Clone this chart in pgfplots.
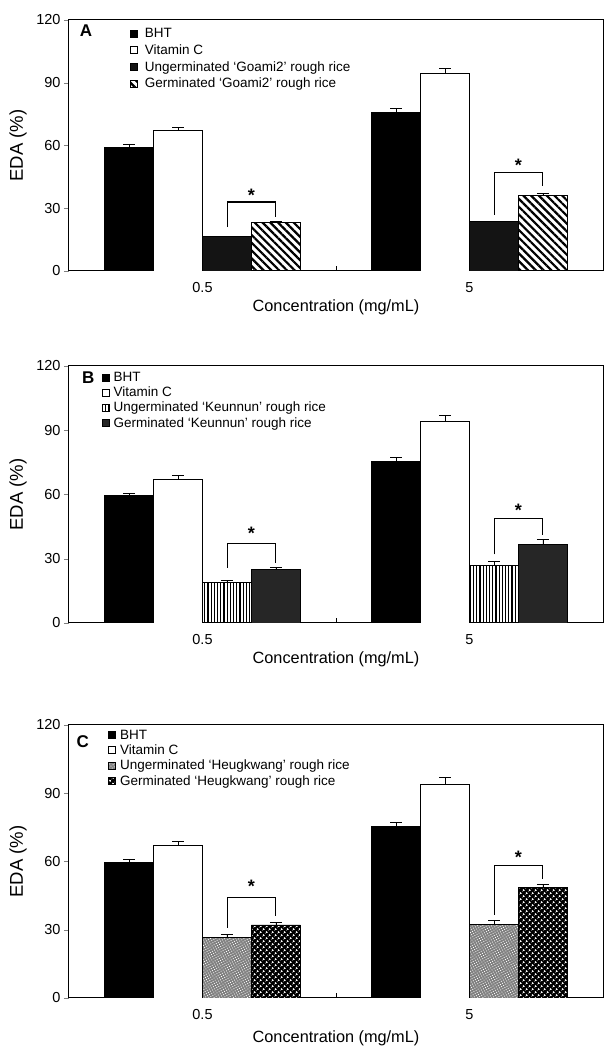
\documentclass[border=0pt]{standalone}
\usepackage{fontspec}
\setmainfont{Liberation Sans}
\usepackage{pgfplots}
\pgfplotsset{compat=1.18}
\usepackage{pgfplotstable}
\usetikzlibrary{patterns,patterns.meta}

\pgfplotstableread{
x bht bhte vc vce u ue g ge
0 59.0 1.5 67.0 1.8 16.5 0.0 23.0 0.8
1 75.7 1.8 94.3 2.7 23.5 0.0 36.3 0.8
}\dataA
\pgfplotstableread{
x bht bhte vc vce u ue g ge
0 59.5 1.0 67.0 1.8 19.0 0.9 25.0 1.1
1 75.5 2.0 94.3 2.8 27.0 1.6 36.8 2.4
}\dataB
\pgfplotstableread{
x bht bhte vc vce u ue g ge
0 59.6 1.2 67.2 1.5 26.5 1.6 32.1 1.1
1 75.5 1.8 94.0 3.0 32.4 1.6 48.7 1.1
}\dataC

\pgfplotsset{
  panel/.style={
    scale only axis, width=534pt, anchor=south west,
    ybar=0pt, bar width=0.1835,
    xmin=-0.5, xmax=1.5, ymin=0, ymax=120,
    xtick={0,1}, xticklabels={0.5,5}, xtick style={draw=none},
    ytick={0,30,60,90,120}, ytick pos=left, tick align=outside,
    major tick length=5pt,
    axis line style={line width=1pt},
    /pgf/number format/assume math mode=true,
    tick label style={font=\fontsize{14.5}{17}\selectfont},
    xticklabel style={yshift=-3pt},
    xlabel={Concentration (mg/mL)}, ylabel={EDA (\%)},
    xlabel style={font=\fontsize{16.3}{19}\selectfont, at={(axis description cs:0.5,0)}, anchor=center, yshift=-36pt},
    ylabel style={font=\fontsize{18.5}{21}\selectfont, at={(axis description cs:-0.0955,0.5)}, anchor=center},
    legend style={draw=none, fill=none, inner sep=0pt, font=\fontsize{13.5}{16}\selectfont, row sep=0pt},
    legend cell align=left,
    every axis plot/.append style={draw=black, line width=0.9pt,
      error bars/y dir=plus, error bars/y explicit,
      error bars/error mark=|,
      error bars/error bar style={black, line width=0.8pt},
      error bars/error mark options={black, mark size=6pt, line width=0.8pt}},
  },
  sq/.style={legend image code/.code={\draw[##1, line width=0.8pt] (0pt,-3.5pt) rectangle (7pt,3.5pt); \path (9pt,0pt);}},
  sqA/.style={legend image code/.code={\draw[##1, line width=0.8pt] (0pt,-3.5pt) rectangle (7pt,3.5pt); \path (12pt,0pt);}},
}

\begin{document}
\begin{tikzpicture}
\path[use as bounding box] (0,0) rectangle (604pt,1049pt);

% Panel A
\begin{axis}[panel, at={(69pt,778pt)}, height=251pt,
  legend style={at={(axis description cs:0.114,0.976)}, anchor=north west, row sep=1.5pt}]
\addplot[sqA, fill=black] table[x=x, y=bht, y error=bhte]{\dataA};
\addplot[sqA, fill=white] table[x=x, y=vc, y error=vce]{\dataA};
\addplot[sqA, fill=black!92] table[x=x, y=u, y error=ue]{\dataA};
\addplot[sqA, fill=white, pattern={Lines[angle=-45, distance=5.5pt, line width=2.2pt]}] table[x=x, y=g, y error=ge]{\dataA};
\legend{BHT, Vitamin C, Ungerminated ‘Goami2’ rough rice, Germinated ‘Goami2’ rough rice}
\draw[line width=1.1pt] (axis cs:0.092,21) |- (axis cs:0.275,33) -- (axis cs:0.275,26);
\draw[line width=1.1pt] (axis cs:1.092,27) |- (axis cs:1.275,47) -- (axis cs:1.275,40.5);
\node[font=\fontsize{18}{18}\selectfont\bfseries, yshift=-3pt] at (axis cs:0.183,37.6) {*};
\node[font=\fontsize{18}{18}\selectfont\bfseries, yshift=-3pt] at (axis cs:1.183,52) {*};
\node[font=\fontsize{17}{17}\selectfont\bfseries] at (axis description cs:0.032,0.956) {A};
\draw[line width=1pt] (axis cs:0.5,0) -- ++(0pt,5pt);
\end{axis}

% Panel B
\begin{axis}[panel, at={(69pt,426pt)}, height=257pt,
  legend style={at={(axis description cs:0.061,0.985)}, anchor=north west}]
\addplot[sq, fill=black] table[x=x, y=bht, y error=bhte]{\dataB};
\addplot[sq, fill=white] table[x=x, y=vc, y error=vce]{\dataB};
\addplot[sq, fill=white, pattern={Lines[angle=90, distance=3.2pt, line width=1.1pt]}] table[x=x, y=u, y error=ue]{\dataB};
\addplot[sq, fill=black!85] table[x=x, y=g, y error=ge]{\dataB};
\legend{BHT, Vitamin C, Ungerminated ‘Keunnun’ rough rice, Germinated ‘Keunnun’ rough rice}
\draw[line width=1.1pt] (axis cs:0.092,25.7) |- (axis cs:0.275,37) -- (axis cs:0.275,28);
\draw[line width=1.1pt] (axis cs:1.092,32) |- (axis cs:1.275,49) -- (axis cs:1.275,41);
\node[font=\fontsize{18}{18}\selectfont\bfseries, yshift=-3pt] at (axis cs:0.183,43.5) {*};
\node[font=\fontsize{18}{18}\selectfont\bfseries, yshift=-3pt] at (axis cs:1.183,54) {*};
\node[font=\fontsize{17}{17}\selectfont\bfseries] at (axis description cs:0.036,0.953) {B};
\draw[line width=1pt] (axis cs:0.5,0) -- ++(0pt,5pt);
\end{axis}

% Panel C
\begin{axis}[panel, at={(69pt,51pt)}, height=273pt, xlabel style={yshift=-4pt},
  legend style={at={(axis description cs:0.073,0.99)}, anchor=north west}]
\addplot[sq, fill=black] table[x=x, y=bht, y error=bhte]{\dataC};
\addplot[sq, fill=white] table[x=x, y=vc, y error=vce]{\dataC};
\addplot[sq, fill=black!50, postaction={pattern={Dots[distance=2.4pt, radius=0.6pt, angle=30]}, pattern color=white}] table[x=x, y=u, y error=ue]{\dataC};
\addplot[sq, fill=black, postaction={pattern={Dots[distance=4pt, radius=1.2pt, angle=45]}, pattern color=white}] table[x=x, y=g, y error=ge]{\dataC};
\legend{BHT, Vitamin C, Ungerminated ‘Heugkwang’ rough rice, Germinated ‘Heugkwang’ rough rice}
\draw[line width=1.1pt] (axis cs:0.092,30.8) |- (axis cs:0.275,44) -- (axis cs:0.275,36);
\draw[line width=1.1pt] (axis cs:1.092,36.5) |- (axis cs:1.275,58.2) -- (axis cs:1.275,52.2);
\node[font=\fontsize{18}{18}\selectfont\bfseries, yshift=-3pt] at (axis cs:0.183,50.5) {*};
\node[font=\fontsize{18}{18}\selectfont\bfseries, yshift=-3pt] at (axis cs:1.183,63) {*};
\node[font=\fontsize{17}{17}\selectfont\bfseries] at (axis description cs:0.026,0.94) {C};
\draw[line width=1pt] (axis cs:0.5,0) -- ++(0pt,5pt);
\end{axis}
\end{tikzpicture}
\end{document}
